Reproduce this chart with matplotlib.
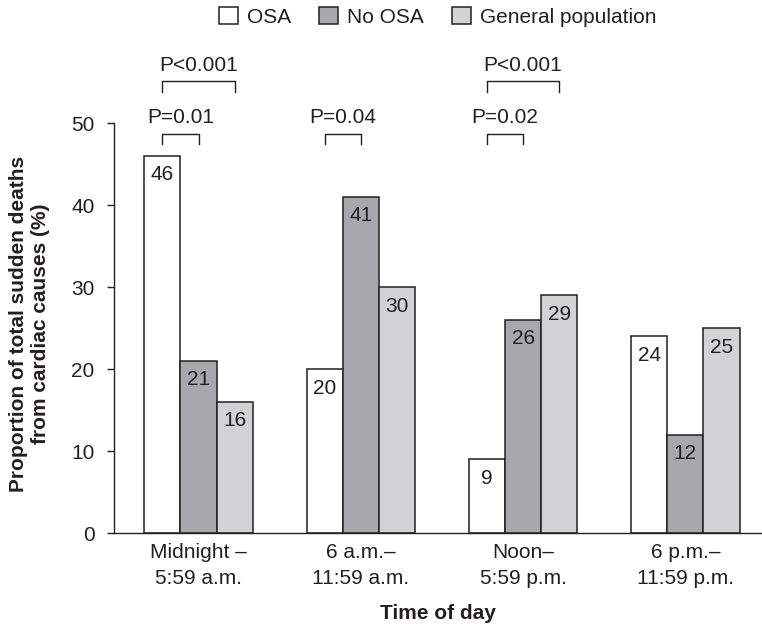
import matplotlib.pyplot as plt
import matplotlib.patches as mpatches
import numpy as np

plt.rcParams['font.family'] = ['Liberation Sans', 'DejaVu Sans']

# Chart data
periods = ['Midnight –\n5:59 a.m.', '6 a.m.–\n11:59 a.m.', 'Noon–\n5:59 p.m.', '6 p.m.–\n11:59 p.m.']
series = ['OSA', 'No OSA', 'General population']
osa = [46, 20, 9, 24]
no_osa = [21, 41, 26, 12]
general = [16, 30, 29, 25]
colors = ['#ffffff', '#a7a8ab', '#d1d2d4']

# p-value brackets: (group, first bar, last bar, label, level)
brackets = [
    (0, 0, 1, 'P=0.01', 0),
    (0, 0, 2, 'P<0.001', 1),
    (1, 0, 1, 'P=0.04', 0),
    (2, 0, 1, 'P=0.02', 0),
    (2, 0, 2, 'P<0.001', 1),
]

ink = '#231f20'
fs = 15

fig = plt.figure(figsize=(7.62, 6.26), dpi=100)
ax = fig.add_axes([0.1496, 0.1481, 0.8504, 0.6550])

x = np.arange(len(periods))
w = 0.223
values = [osa, no_osa, general]
for k, (vals, col) in enumerate(zip(values, colors)):
    pos = x + (k - 1) * w
    ax.bar(pos, vals, width=w, color=col, edgecolor=ink, linewidth=1.1)
    for p, v in zip(pos, vals):
        ax.text(p, v - 2.3, str(v), ha='center', va='center', fontsize=fs, color=ink)

# significance brackets
for g, a, b, label, lvl in brackets:
    x0 = g + (a - 1) * w
    x1 = g + (b - 1) * w
    h = 48.7 if lvl == 0 else 55.1
    ax.plot([x0, x0, x1, x1], [h - 1.25, h, h, h - 1.25], color=ink, lw=1.0, clip_on=False)
    ax.text((x0 + x1) / 2, h + 2.0, label, ha='center', va='center', fontsize=fs, color=ink)

ax.set_xlim(-0.521, 3.472)
ax.set_ylim(0, 50)
ax.set_yticks(range(0, 51, 10))
ax.set_xticks(x)
ax.set_xticklabels(periods, fontsize=fs, color=ink)
for lbl in ax.get_xticklabels():
    lbl.set_linespacing(1.45)
ax.tick_params(axis='x', length=0, pad=7)
ax.tick_params(axis='y', length=5, width=1, pad=9, labelsize=fs, labelcolor=ink, color=ink)
for s in ['top', 'right']:
    ax.spines[s].set_visible(False)
for s in ['left', 'bottom']:
    ax.spines[s].set_color(ink)
    ax.spines[s].set_linewidth(1.0)

ax.set_ylabel('Proportion of total sudden deaths\nfrom cardiac causes (%)',
              fontsize=fs, fontweight='bold', color=ink)
ax.yaxis.set_label_coords(-0.099, 0.51)
ax.set_xlabel('Time of day', fontsize=fs, fontweight='bold', color=ink)
ax.xaxis.set_label_coords(0.5, -0.172)

handles = [mpatches.Patch(facecolor=c, edgecolor=ink, linewidth=1.1, label=s)
           for c, s in zip(colors, series)]
ax.legend(handles=handles, loc='center', bbox_to_anchor=(0.5, 1.259), ncol=3,
          frameon=False, fontsize=fs, handlelength=0.9, handleheight=0.9,
          handletextpad=0.45, columnspacing=1.35, borderpad=0, labelcolor=ink)

plt.savefig('out.png', dpi=100)
